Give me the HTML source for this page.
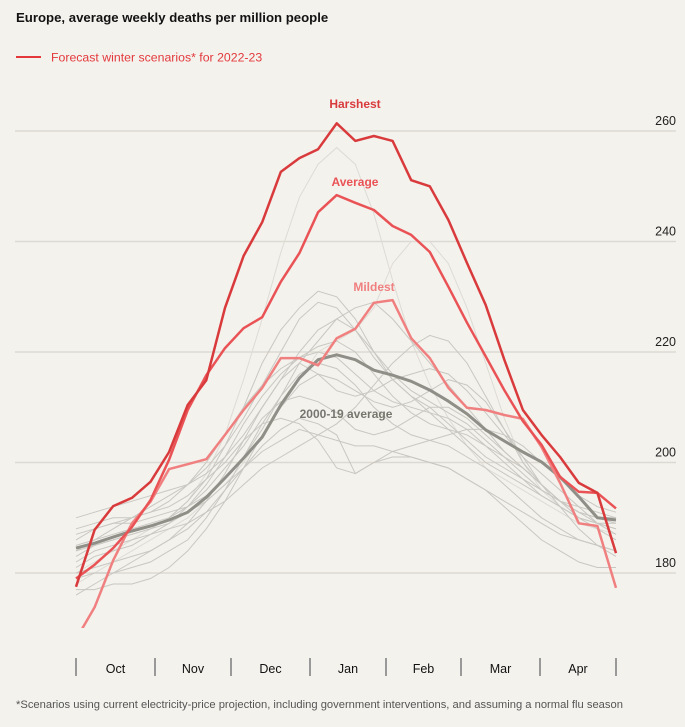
<!DOCTYPE html>
<html><head><meta charset="utf-8"><style>
body{margin:0;background:#f4f2ed;width:685px;height:727px;overflow:hidden;font-family:"Liberation Sans",sans-serif;}
svg{display:block}
</style></head><body>
<svg id="chart" width="685" height="727">
<defs><clipPath id="plotclip"><rect x="0" y="80" width="685" height="548"/></clipPath></defs>
<text x="16" y="22" font-size="13.2" font-weight="bold" fill="#121212">Europe, average weekly deaths per million people</text>
<g>
<line x1="16" y1="57" x2="41" y2="57" stroke="#e3393d" stroke-width="2"/>
<text x="51" y="61.5" font-size="12.3" fill="#e3393d">Forecast winter scenarios* for 2022-23</text>
</g>
<g id="grid"></g>
<g id="bg" clip-path="url(#plotclip)"></g>
<g id="main" clip-path="url(#plotclip)"></g>
<g id="labels"></g>
<g id="xaxis"></g>
<text x="16" y="708" font-size="11.2" fill="#555">*Scenarios using current electricity-price projection, including government interventions, and assuming a normal flu season</text>
</svg>
<script>
const yTicks=[180,200,220,240,260];
const months=["Oct","Nov","Dec","Jan","Feb","Mar","Apr"];
const harshest=[177.5,187.8,192.1,193.6,196.5,201.9,210.4,214.9,228,237.4,243.5,252.6,255.1,256.7,261.4,258.2,259.1,258.2,251.1,250,243.9,236.1,228.5,218.6,209.5,205,201,196.3,194.5,183.6];
const average=[179,181.5,184.5,188.3,193.2,200.5,209.5,215.8,220.7,224.3,226.3,232.7,237.9,245.3,248.4,247,245.7,242.8,241.2,238.1,231.8,225.3,219.2,213.1,207.5,203.2,197.4,194.7,194.5,191.7];
const mildest=[168,173.8,182.3,189,192.9,198.8,199.7,200.6,205,209.5,213.5,218.9,218.9,217.6,222.5,224.2,228.9,229.4,222.5,218.9,213.5,209.9,209.5,208.6,207.9,202.8,196.3,189,188.5,177.3];
const hist=[184.5,185.4,186.5,187.6,188.5,189.6,191,193.7,197.2,200.8,204.6,210.4,215.3,218.6,219.5,218.6,216.7,215.8,214.7,213.1,211.1,208.8,205.9,203.9,201.9,200.1,197.4,193.8,190,189.6];
const y2000=[180,182,184,186,188,190,193,198,205,215,226,238,248,254,257,254,245,233,222,214,208,203,199,197,195,193,191,189,188,187];
const y2001=[178,180,182,184,186,188,190,193,196,200,205,210,215,220,222,224,228,236,240,240,236,228,218,208,200,195,192,190,189,188];
const y2002=[183,185,186,187,188,190,193,197,203,210,218,224,228,231,230,226,220,215,212,210,207,204,201,199,197,195,193,191,190,189];
const y2003=[186,188,189,189,190,191,192,194,197,201,206,212,218,222,226,228,229,226,222,218,214,210,206,202,199,196,193,191,190,190];
const y2004=[181,183,184,185,187,189,192,196,201,207,212,216,219,221,222,220,216,212,209,207,206,205,203,201,199,196,193,190,188,186];
const y2005=[188,189,190,190,191,192,194,197,200,204,207,208,207,204,199,198,200,202,203,204,205,206,206,205,203,200,197,194,192,191];
const y2006=[176,178,180,182,184,186,189,193,198,204,210,215,218,216,213,212,213,215,216,217,216,213,209,205,201,198,195,192,189,187];
const y2007=[184,185,186,187,188,189,191,193,196,199,202,204,206,205,204,203,203,202,201,200,199,197,195,193,191,189,187,186,185,184];
const y2008=[179,180,180,181,182,184,186,190,195,201,207,212,216,218,217,214,210,207,205,204,203,201,199,196,193,190,188,186,185,184];
const y2009=[190,191,192,193,194,195,196,198,201,205,210,215,220,224,226,224,220,216,213,211,209,207,204,201,198,195,193,192,191,190];
const y2010=[177,177,178,178,179,181,184,188,193,199,205,210,214,216,215,213,211,210,211,213,215,214,211,206,201,196,192,188,185,183];
const y2011=[185,186,187,188,189,190,192,195,199,203,208,211,212,211,209,206,205,206,208,210,210,208,205,202,199,196,193,191,189,188];
const y2012=[182,184,185,186,187,188,189,191,193,196,199,201,203,205,207,210,214,218,221,223,222,218,212,206,200,196,193,191,190,190];
const y2013=[187,188,189,190,191,193,196,200,205,210,214,217,219,220,219,216,213,211,210,209,208,206,203,200,197,194,192,190,189,188];
const y2014=[180,181,182,183,184,186,188,191,195,199,203,206,208,207,205,198,200,201,201,200,199,197,195,192,189,186,184,182,181,181];
const y2015=[184,186,188,190,192,194,196,199,203,208,214,220,226,229,228,224,219,215,212,209,206,203,200,198,196,194,192,190,189,189];
const pastYears=[y2000,y2001,y2002,y2003,y2004,y2005,y2006,y2007,y2008,y2009,y2010,y2011,y2012,y2013,y2014,y2015];

const NS="http://www.w3.org/2000/svg";
const X0=76,X1=616;
function xs(i,n){return X0+(X1-X0)*i/(n-1);}
function ys(v){return 131+(260-v)*5.525;}
function mk(tag,attrs,parent){const e=document.createElementNS(NS,tag);for(const k in attrs)e.setAttribute(k,attrs[k]);parent.appendChild(e);return e;}
function pts(arr){return arr.map((v,i)=>xs(i,arr.length).toFixed(1)+","+ys(v).toFixed(1)).join(" ");}

const grid=document.getElementById("grid");
yTicks.forEach(t=>{
  const l=mk("line",{x1:15,x2:676,y1:ys(t),y2:ys(t),stroke:"#dcd9d2","stroke-width":1.5},grid);
  
  
  const tx=mk("text",{x:676,y:ys(t)-6,"text-anchor":"end","font-size":12.5,fill:"#222"},grid);
  tx.textContent=t;
  
  
});

const bg=document.getElementById("bg");
pastYears.forEach((s,i)=>{
  const p=mk("polyline",{points:pts(s),fill:"none",stroke:i<2?"#dedbd5":"#c9c7c1","stroke-width":1},bg);
  
  
});

const main=document.getElementById("main");
function series(arr,color,w,name){
  const p=mk("polyline",{points:pts(arr),fill:"none",stroke:color,"stroke-width":w,"stroke-linejoin":"round"},main);
  
  
}
series(hist,"#8f8e87",3,"historical-average-line");
series(mildest,"#f08080",2.5,"mildest-line");
series(average,"#ea5356",2.5,"average-line");
series(harshest,"#d93a3c",2.5,"harshest-line");

const labels=document.getElementById("labels");
function label(txt,x,y,color,name){
  const t=mk("text",{x:x,y:y,"text-anchor":"middle","font-size":12,"font-weight":"bold",fill:color},labels);
  t.textContent=txt;
  
  
}
label("Harshest",355,108,"#d93a3c","harshest-label");
label("Average",355,186,"#ea5356","average-label");
label("Mildest",374,291,"#f08080","mildest-label");
label("2000-19 average",346,418,"#77766e","historical-average-label");

const xa=document.getElementById("xaxis");
const tickX=[76,155,231,310,386,461,540,616];
tickX.forEach(x=>{
  const l=mk("line",{x1:x,x2:x,y1:658,y2:676,stroke:"#999","stroke-width":2},xa);
  
  
});
months.forEach((m,i)=>{
  const t=mk("text",{x:(tickX[i]+tickX[i+1])/2,y:673,"text-anchor":"middle","font-size":12.5,fill:"#111"},xa);
  t.textContent=m;
  
  
});
</script>
</body></html>
